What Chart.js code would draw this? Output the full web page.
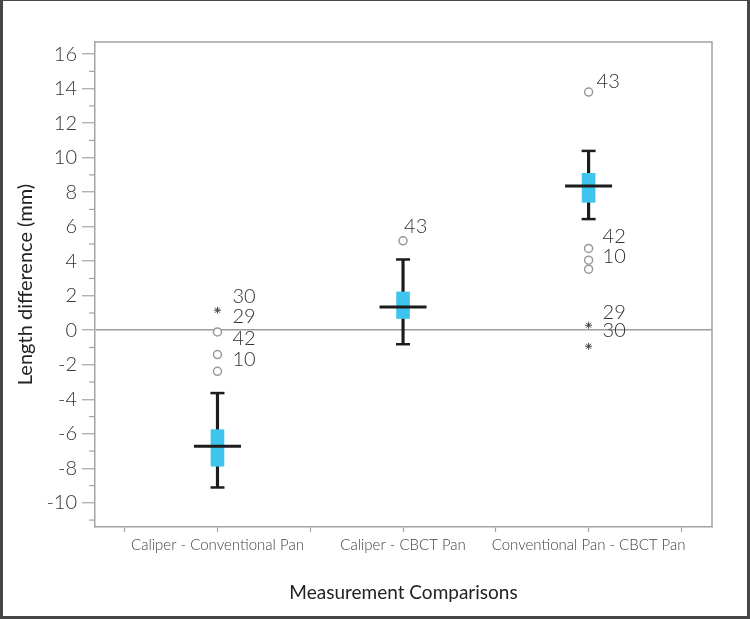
<!DOCTYPE html>
<html>
<head>
<meta charset="utf-8">
<script src="https://cdn.jsdelivr.net/npm/chart.js@4"></script>
<style>
  html, body { margin: 0; padding: 0; background: #fff; }
  #wrap { position: relative; width: 750px; height: 619px; }
  #frame {
    position: absolute; left: 0; top: 0; right: 0; bottom: 0;
    border-style: solid; border-color: #474747;
    border-width: 1px 3px 3px 3px; pointer-events: none;
  }
  canvas { display: block; }
</style>
</head>
<body>
<div id="wrap">
  <canvas id="chart" width="750" height="619"></canvas>
  <div id="frame"></div>
</div>
<script>
  // box plot summary per comparison
  const categories = ['Caliper - Conventional Pan', 'Caliper - CBCT Pan', 'Conventional Pan - CBCT Pan'];
  const catX = [1, 3, 5];
  const whiskerLow = [-9.11, -0.81, 6.44];
  const q1 = [-7.88, 0.68, 7.41];
  const median = [-6.72, 1.35, 8.36];
  const q3 = [-5.76, 2.22, 9.09];
  const whiskerHigh = [-3.64, 4.10, 10.39];

  // outliers (circles) and extremes (stars)
  const circleCat = [0, 0, 0, 1, 2, 2, 2, 2];
  const circleVal = [-0.10, -1.41, -2.38, 5.18, 13.8, 4.74, 4.06, 3.54];
  const starCat = [0, 2, 2];
  const starVal = [1.16, 0.29, -0.93];

  // case number labels next to the outliers
  const labelCat = [0, 0, 0, 0, 1, 2, 2, 2, 2, 2];
  const labelText = ['30', '29', '42', '10', '43', '43', '42', '10', '29', '30'];
  const labelVal = [1.97, 0.77, -0.46, -1.68, 6.0, 14.41, 5.41, 4.25, 1.04, -0.04];
  const labelDx = [15, 15, 15, 15, 1, 8, 14, 14, 14, 14];

  const yMin = -11.4, yMax = 16.7;
  const xMin = -0.32, xMax = 6.33;

  const FONT = 'Lato, "Open Sans", sans-serif';
  const AXIS_GRAY = '#a3a3a3';
  const BOX_BLUE = '#3fc4ee';
  const DARK = '#1c1c1c';

  const pts = (cats, vals) => vals.map((v, i) => ({ x: catX[cats[i]], y: v }));

  // frame on top/right, minor y ticks, outlier labels
  const extras = {
    id: 'extras',
    beforeDatasetsDraw(chart) {
      const { ctx, chartArea: a } = chart;
      ctx.save();
      ctx.strokeStyle = AXIS_GRAY;
      ctx.lineWidth = 1.5;
      ctx.beginPath();
      ctx.moveTo(a.left, a.top);
      ctx.lineTo(a.right, a.top);
      ctx.lineTo(a.right, a.bottom);
      ctx.stroke();
      // minor ticks on odd values
      const y = chart.scales.y;
      ctx.lineWidth = 1.2;
      for (let v = Math.ceil(yMin); v <= Math.floor(yMax); v++) {
        if (v % 2 === 0) continue;
        const py = y.getPixelForValue(v);
        ctx.beginPath();
        ctx.moveTo(a.left - 6, py);
        ctx.lineTo(a.left, py);
        ctx.stroke();
      }
      ctx.restore();
    },
    afterDatasetsDraw(chart) {
      const { ctx } = chart;
      const xs = chart.scales.x, ys = chart.scales.y;
      ctx.save();
      ctx.font = '300 20px ' + FONT;
      ctx.fillStyle = '#333';
      ctx.textBaseline = 'middle';
      ctx.textAlign = 'left';
      labelText.forEach((t, i) => {
        const px = xs.getPixelForValue(catX[labelCat[i]]) + labelDx[i];
        const py = ys.getPixelForValue(labelVal[i]);
        ctx.fillText(t, px, py);
      });
      ctx.restore();
    }
  };

  new Chart(document.getElementById('chart'), {
    type: 'bar',
    data: {
      datasets: [
        {
          // whisker stems
          type: 'bar',
          data: catX.map((x, i) => ({ x, y: [whiskerLow[i], whiskerHigh[i]] })),
          backgroundColor: DARK,
          barThickness: 2.5,
          grouped: false,
          order: 5
        },
        {
          // interquartile boxes
          type: 'bar',
          data: catX.map((x, i) => ({ x, y: [q1[i], q3[i]] })),
          backgroundColor: BOX_BLUE,
          barThickness: 13,
          grouped: false,
          order: 4
        },
        {
          // whisker caps
          type: 'scatter',
          data: catX.map((x, i) => ({ x, y: whiskerLow[i] })).concat(catX.map((x, i) => ({ x, y: whiskerHigh[i] }))),
          pointStyle: 'line',
          radius: 7,
          borderColor: DARK,
          borderWidth: 2.5,
          order: 2
        },
        {
          // medians
          type: 'scatter',
          data: catX.map((x, i) => ({ x, y: median[i] })),
          pointStyle: 'line',
          radius: 23.5,
          borderColor: DARK,
          borderWidth: 3,
          order: 1
        },
        {
          type: 'scatter',
          data: pts(circleCat, circleVal),
          pointStyle: 'circle',
          radius: 4,
          borderColor: '#9a9a9a',
          backgroundColor: '#fff',
          borderWidth: 1.5,
          order: 0
        },
        {
          type: 'scatter',
          data: pts(starCat, starVal),
          pointStyle: 'star',
          radius: 3.5,
          borderColor: '#444',
          borderWidth: 1,
          order: 0
        }
      ]
    },
    options: {
      responsive: false,
      animation: false,
      events: [],
      layout: { padding: { top: 42, right: 38, left: 0, bottom: 0 } },
      plugins: { legend: { display: false }, tooltip: { enabled: false } },
      scales: {
        x: {
          type: 'linear',
          offset: false,
          min: xMin,
          max: xMax,
          afterFit(s) { s.height = 92; },
          border: { display: true, color: AXIS_GRAY, width: 1.5 },
          grid: { drawOnChartArea: false, offset: false, tickLength: 5, tickColor: AXIS_GRAY, tickWidth: 1.2 },
          ticks: {
            stepSize: 1,
            includeBounds: false,
            autoSkip: false,
            maxRotation: 0,
            padding: 4,
            color: '#444',
            font: { family: FONT, size: 15, weight: '300' },
            callback: v => {
              const i = catX.indexOf(v);
              return i >= 0 ? categories[i] : '';
            }
          },
          title: {
            display: true,
            text: 'Measurement Comparisons',
            color: '#222',
            font: { family: FONT, size: 19 },
            padding: { top: 0, bottom: 15 }
          }
        },
        y: {
          min: yMin,
          max: yMax,
          afterFit(s) { s.width = 95; },
          border: { display: true, color: AXIS_GRAY, width: 1.5 },
          grid: {
            drawOnChartArea: true,
            tickLength: 13,
            tickWidth: 1.2,
            color: c => (c.tick && c.tick.value === 0 ? '#9c9c9c' : 'rgba(0,0,0,0)'),
            lineWidth: 1.5,
            tickColor: c => (c.tick && Math.abs(c.tick.value) % 2 === 0 ? AXIS_GRAY : 'rgba(0,0,0,0)')
          },
          ticks: {
            stepSize: 1,
            includeBounds: false,
            autoSkip: false,
            padding: 5,
            color: '#333',
            font: { family: FONT, size: 20, weight: '300' },
            callback: v => (v % 2 === 0 ? String(v) : '')
          },
          title: {
            display: true,
            text: 'Length difference (mm)',
            color: '#222',
            font: { family: FONT, size: 20 },
            padding: { top: 14, bottom: 0 }
          }
        }
      }
    },
    plugins: [extras]
  });
</script>
</body>
</html>
